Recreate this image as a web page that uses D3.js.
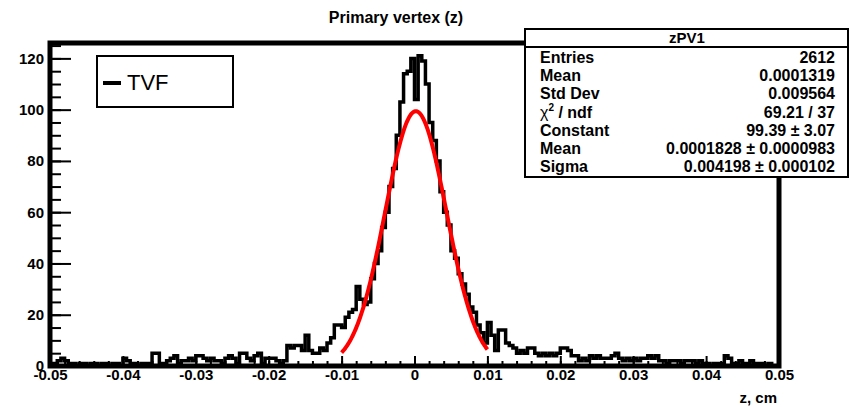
<!DOCTYPE html>
<html>
<head>
<meta charset="utf-8">
<script src="https://cdn.jsdelivr.net/npm/d3@7"></script>
<style>
  body { margin: 0; background: #fff; }
  svg { display: block; font-family: 'Liberation Sans', Arial, Helvetica, sans-serif; }
</style>
</head>
<body>
<svg id="chart" width="851" height="407"></svg>
<script>
// histogram zPV1: 200 bins of 0.0005 cm between -0.05 and 0.05
var binLow = -0.05, binWidth = 0.0005;
var counts = [
  0,1,2,3,2,1,1,0,1,1,0,1,1,0,1,1,0,1,1,0,
  3,2,1,1,0,1,1,1,5,5,1,1,2,3,4,1,2,2,3,2,
  4,4,3,2,3,2,2,1,3,4,3,1,5,5,3,2,4,5,1,3,
  3,3,2,1,2,8,7,8,8,6,12,6,5,5,7,6,9,11,16,16,
  15,19,21,22,31,26,24,25,34,40,45,54,60,70,77,90,103,114,115,120,
  104,121,119,110,95,88,80,68,60,55,45,42,36,32,28,23,21,16,13,9,
  17,12,6,14,14,9,8,7,5,6,5,7,7,5,4,5,4,5,4,5,
  7,7,6,4,4,2,3,2,4,3,4,3,3,3,4,5,3,2,3,2,
  3,2,3,3,4,3,4,2,2,1,2,2,2,1,2,2,2,1,2,1,
  1,0,1,1,1,4,3,1,1,2,1,1,2,1,1,1,0,1,0,0
];
// gaussian fit
var fitConstant = 99.39, fitMean = 0.0001828, fitSigma = 0.004198;
var fitRange = [-0.01, 0.01];

var xTicks = [-0.05, -0.04, -0.03, -0.02, -0.01, 0, 0.01, 0.02, 0.03, 0.04, 0.05];
var xTickLabels = ['-0.05', '-0.04', '-0.03', '-0.02', '-0.01', '0', '0.01', '0.02', '0.03', '0.04', '0.05'];
var yTicks = [0, 20, 40, 60, 80, 100, 120];

var statsTitle = 'zPV1';
var statsNames = ['Entries', 'Mean', 'Std Dev', 'chi2', 'Constant', 'Mean', 'Sigma'];
var statsValues = ['2612', '0.0001319', '0.009564', '69.21 / 37', '99.39 \u00b1 3.07',
  '0.0001828 \u00b1 0.0000983', '0.004198 \u00b1 0.000102'];

var chartTitle = 'Primary vertex (z)';
var xTitle = 'z, cm';
var legendLabel = 'TVF';

var svg = d3.select('#chart');
var padL = 50, padR = 779, padT = 43, padB = 366;

var x = d3.scaleLinear().domain([-0.05, 0.05]).range([padL, padR]);
var y = d3.scaleLinear().domain([0, 126]).range([padB, padT]);

// minor ticks
var xMinor = d3.range(-0.05, 0.0501, 0.002);
svg.append('g').attr('transform', 'translate(0,' + padB + ')')
  .call(d3.axisBottom(x).tickValues(xMinor).tickSize(-5).tickFormat(''))
  .call(function (g) { g.select('.domain').remove(); g.selectAll('line').style('stroke-width', 2); });
svg.append('g').attr('transform', 'translate(' + padL + ',0)')
  .call(d3.axisLeft(y).tickValues(d3.range(0, 126, 5)).tickSize(-11).tickFormat(''))
  .call(function (g) { g.select('.domain').remove(); g.selectAll('line').style('stroke-width', 2); });

// major ticks
svg.append('g').attr('transform', 'translate(0,' + padB + ')')
  .call(d3.axisBottom(x).tickValues(xTicks).tickSizeInner(-10).tickSizeOuter(0).tickPadding(3)
    .tickFormat(function (d, i) { return xTickLabels[i]; }))
  .call(function (g) {
    g.select('.domain').remove();
    g.selectAll('line').style('stroke-width', 2);
    g.selectAll('text').style('font-size', '15px').style('font-weight', 'bold').style('fill', '#000');
  });
svg.append('g').attr('transform', 'translate(' + padL + ',0)')
  .call(d3.axisLeft(y).tickValues(yTicks).tickSizeInner(-21).tickSizeOuter(0).tickPadding(6))
  .call(function (g) {
    g.select('.domain').remove();
    g.selectAll('line').style('stroke-width', 2);
    g.selectAll('text').style('font-size', '15px').style('font-weight', 'bold').style('fill', '#000');
  });

// histogram outline
var steps = counts.map(function (c, i) { return [binLow + i * binWidth, c]; });
steps.push([binLow + counts.length * binWidth, counts[counts.length - 1]]);
var stepLine = d3.line()
  .x(function (d) { return x(d[0]); })
  .y(function (d) { return y(d[1]); })
  .curve(d3.curveStepAfter);
svg.append('path').datum(steps)
  .attr('d', stepLine)
  .style('fill', 'none').style('stroke', '#000').style('stroke-width', 3.5);

// fit curve
var fitPts = d3.range(0, 201).map(function (k) {
  var v = fitRange[0] + (fitRange[1] - fitRange[0]) * k / 200;
  var t = (v - fitMean) / fitSigma;
  return [v, fitConstant * Math.exp(-0.5 * t * t)];
});
svg.append('path').datum(fitPts)
  .attr('d', d3.line().x(function (d) { return x(d[0]); }).y(function (d) { return y(d[1]); }))
  .style('fill', 'none').style('stroke', '#ff0000').style('stroke-width', 4);

// frame
svg.append('rect')
  .attr('x', padL).attr('y', padT)
  .attr('width', padR - padL).attr('height', padB - padT)
  .style('fill', 'none').style('stroke', '#000').style('stroke-width', 5);

// titles
svg.append('text').attr('x', 396).attr('y', 23).attr('text-anchor', 'middle')
  .style('font-size', '16px').style('font-weight', 'bold').text(chartTitle);
svg.append('text').attr('x', 777).attr('y', 403).attr('text-anchor', 'end')
  .style('font-size', '15px').style('font-weight', 'bold').text(xTitle);

// legend
var lg = svg.append('g');
lg.append('rect').attr('x', 97).attr('y', 56).attr('width', 136).attr('height', 51)
  .style('fill', '#fff').style('stroke', '#000').style('stroke-width', 2);
lg.append('line').attr('x1', 103).attr('x2', 121).attr('y1', 83).attr('y2', 83)
  .style('stroke', '#000').style('stroke-width', 4);
lg.append('text').attr('x', 127).attr('y', 90).style('font-size', '22px').text(legendLabel);

// stats box
var sb = svg.append('g');
sb.append('rect').attr('x', 525).attr('y', 29).attr('width', 323).attr('height', 148)
  .style('fill', '#fff').style('stroke', '#000').style('stroke-width', 2);
sb.append('line').attr('x1', 525).attr('x2', 848).attr('y1', 47).attr('y2', 47)
  .style('stroke', '#000').style('stroke-width', 2);
sb.append('text').attr('x', 687).attr('y', 43).attr('text-anchor', 'middle')
  .style('font-size', '15px').style('font-weight', 'bold').text(statsTitle);
statsNames.forEach(function (name, i) {
  var yy = 63 + i * 18.2;
  var t = sb.append('text').attr('x', 540).attr('y', yy)
    .style('font-size', '16px').style('font-weight', 'bold');
  if (name === 'chi2') {
    t.append('tspan').style('font-weight', 'normal').text('\u03c7');
    t.append('tspan').attr('dy', -7).style('font-size', '10px').text('2');
    t.append('tspan').attr('dy', 7).text(' / ndf');
  } else {
    t.text(name);
  }
  sb.append('text').attr('x', 835).attr('y', yy).attr('text-anchor', 'end')
    .style('font-size', '16px').style('font-weight', 'bold').text(statsValues[i]);
});
</script>
</body>
</html>
